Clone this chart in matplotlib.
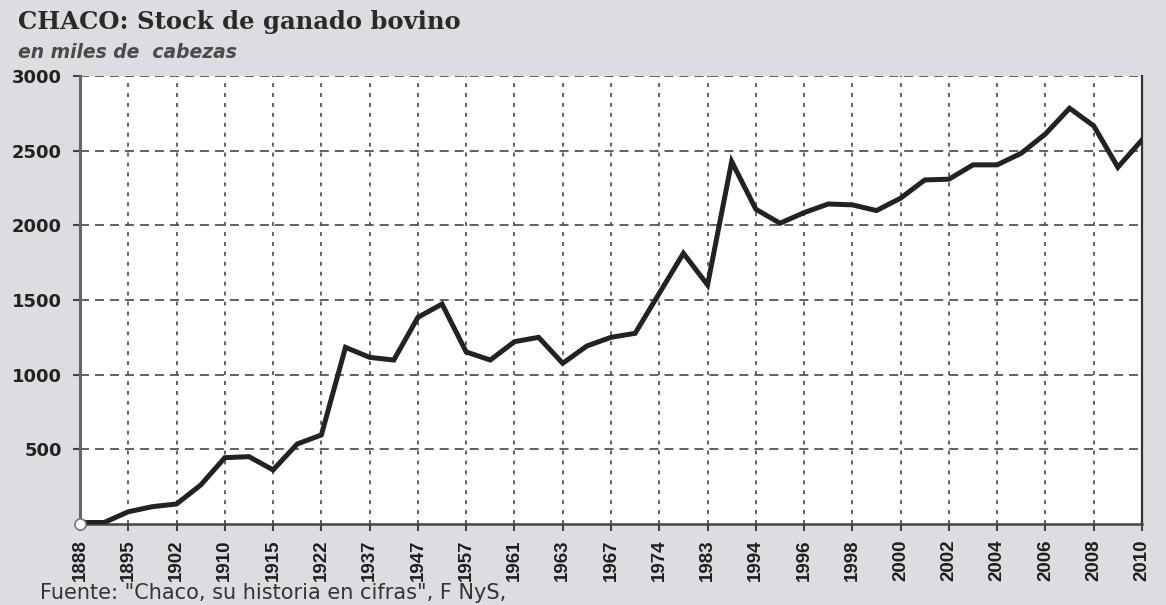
import matplotlib.pyplot as plt

# Tick labels (every second data point carries a year label)
years = ['1888', '1895', '1902', '1910', '1915', '1922', '1937', '1947', '1957', '1961', '1963', '1967',
         '1974', '1983', '1994', '1996', '1998', '2000', '2002', '2004', '2006', '2008', '2010']

# Stock de ganado bovino, miles de cabezas (45 points)
stock = [10, 10, 82, 116, 134, 261, 444, 451, 362, 536, 596, 1183, 1116, 1098, 1384, 1473, 1152, 1098,
         1221, 1250, 1076, 1192, 1250, 1277, 1545, 1813, 1601, 2427, 2108, 2014, 2085, 2143, 2137, 2099,
         2182, 2304, 2309, 2405, 2405, 2483, 2612, 2784, 2666, 2389, 2572]

y_ticks = [500, 1000, 1500, 2000, 2500, 3000]

BG = '#dcdde0'

fig = plt.figure(figsize=(11.66, 6.05), dpi=100, facecolor=BG)
ax = fig.add_axes([80 / 1166, 1 - 524 / 605, (1142 - 80) / 1166, (524 - 76) / 605])
ax.set_facecolor('white')

x = list(range(len(stock)))
ax.plot(x, stock, color='#222222', linewidth=3.6, solid_joinstyle='miter', zorder=3)

# open circle at the origin
ax.plot([0], [0], marker='o', markersize=8, markerfacecolor='white', markeredgecolor='#777777',
        markeredgewidth=1.2, clip_on=False, zorder=5)

ax.set_xlim(0, len(stock) - 1)
ax.set_ylim(0, 3000)

label_pos = list(range(0, len(stock), 2))
ax.set_xticks(label_pos)
ax.set_xticklabels(years, rotation=90, fontsize=13.5, fontweight='bold', family='Liberation Sans',
                   color='#1e1e1e')
ax.set_yticks(y_ticks)
ax.set_yticklabels([str(v) for v in y_ticks], fontsize=13, fontweight='bold', family='DejaVu Sans',
                   color='#222222')

ax.tick_params(axis='x', length=5, width=1.5, color='#444444', pad=6, direction='out')
ax.tick_params(axis='y', length=5, width=1.5, color='#444444', pad=8, direction='out')

ax.xaxis.grid(True, color='#555555', linestyle=(0, (2.2, 3.3)), linewidth=1.3)
ax.yaxis.grid(True, color='#555555', linestyle=(0, (5, 3.3)), linewidth=1.3)
ax.set_axisbelow(True)

ax.spines['top'].set_visible(False)
ax.spines['left'].set_color('#666666')
ax.spines['left'].set_linewidth(2.2)
ax.spines['bottom'].set_color('#444444')
ax.spines['bottom'].set_linewidth(1.8)
ax.spines['right'].set_color('#333333')
ax.spines['right'].set_linewidth(1.6)

fig.text(18 / 1166, 1 - 22 / 605, 'CHACO: Stock de ganado bovino', fontsize=17.5, fontweight='bold',
         family='DejaVu Serif', color='#2a2a2a', va='center', ha='left')
fig.text(18 / 1166, 1 - 52 / 605, 'en miles de  cabezas', fontsize=13.5, style='italic', fontweight='bold',
         family='DejaVu Sans', color='#4a4a4a', va='center', ha='left')
fig.text(40 / 1166, 1 - 593 / 605, 'Fuente: "Chaco, su historia en cifras", F NyS,', fontsize=15,
         family='DejaVu Sans', color='#333333', va='center', ha='left')

fig.savefig('out.png', dpi=100, facecolor=BG)
